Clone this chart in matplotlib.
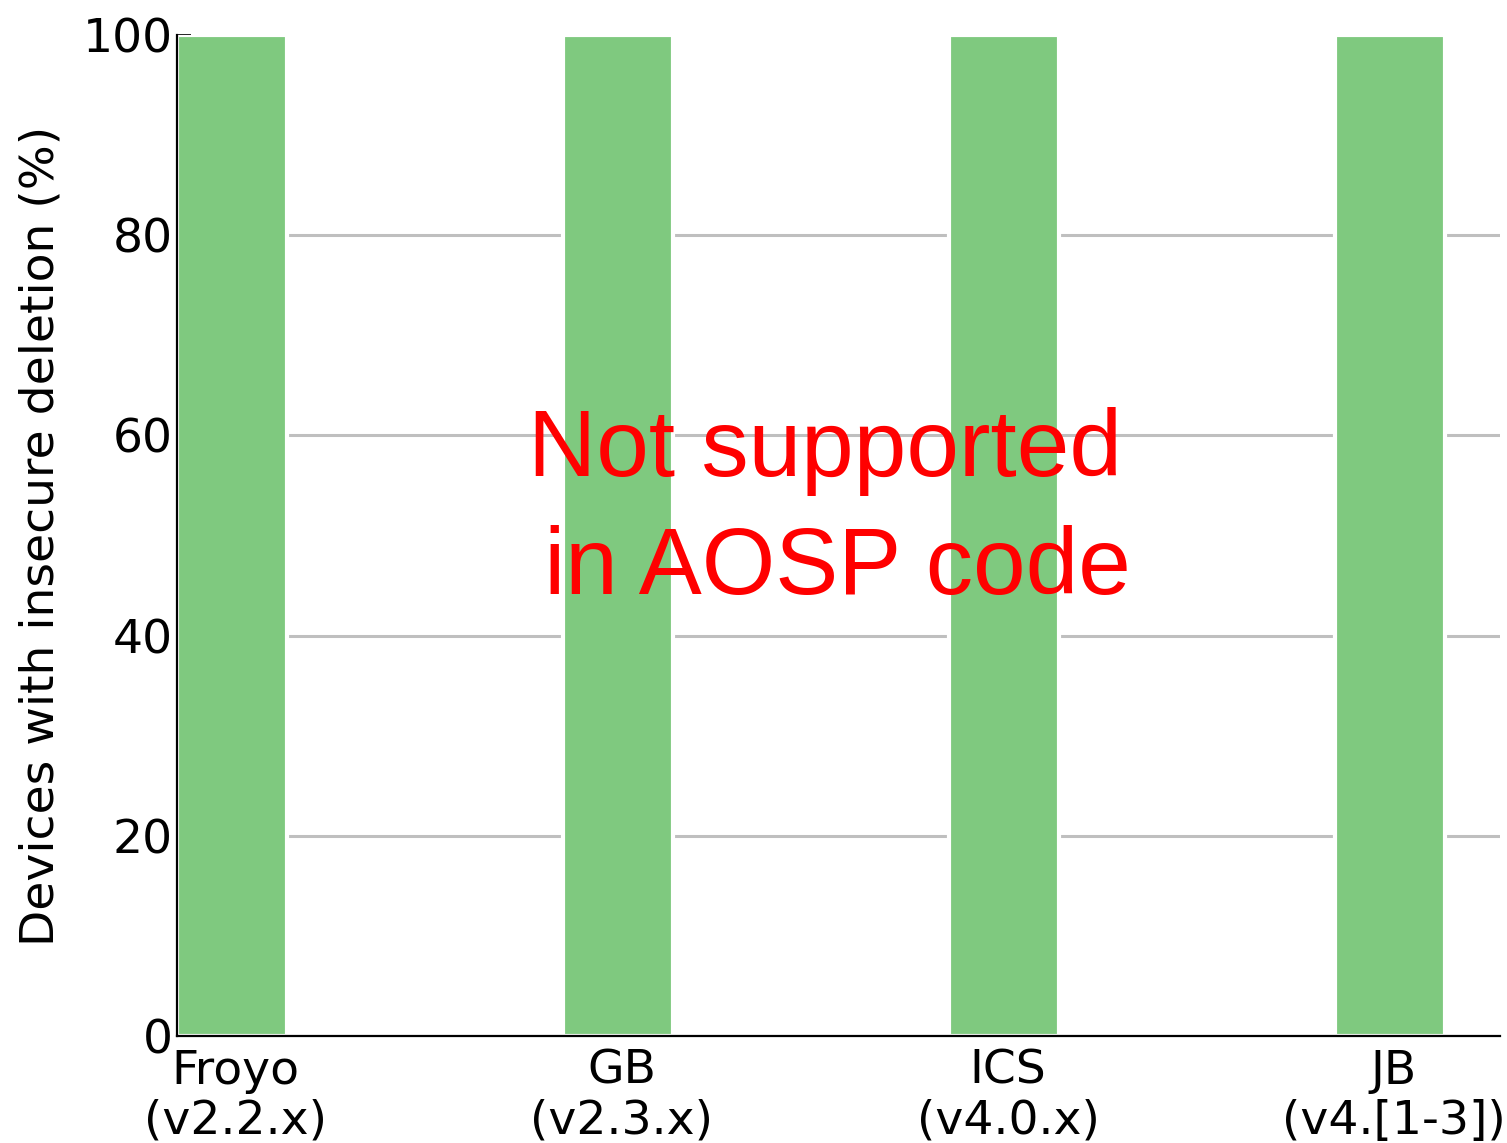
import matplotlib
matplotlib.use("Agg")
import matplotlib.pyplot as plt
import numpy as np

# data
versions = ["Froyo\n(v2.2.x)", "GB\n(v2.3.x)", "ICS\n(v4.0.x)", "JB\n(v4.[1-3])"]
insecure_pct = [100, 100, 100, 100]
yticks = [0, 20, 40, 60, 80, 100]

bar_color = "#7fc97f"
width = 0.285

fig = plt.figure(figsize=(15.07, 11.43), dpi=100)
ax = fig.add_axes([177 / 1507, 1 - 1036 / 1143, (1500 - 177) / 1507, (1036 - 35) / 1143])

x = np.arange(len(versions))
ax.bar(x, insecure_pct, width, align="edge", color=bar_color,
       edgecolor="white", linewidth=3, zorder=3)

ax.set_xlim(0, 3.427)
ax.set_ylim(0, 100)
ax.set_xticks(x + width / 2 + 0.01)
ax.set_xticklabels(versions, fontsize=34, linespacing=1.15)
ax.set_yticks(yticks)
ax.set_yticklabels([str(t) for t in yticks], fontsize=34)
ax.tick_params(axis="x", length=0, pad=9)
ax.tick_params(axis="y", direction="in", length=10, width=1.2, pad=3, right=False)

ax.yaxis.grid(True, color="#bfbfbf", linewidth=2.2, zorder=0)
ax.set_axisbelow(True)
ax.get_ygridlines()[-1].set_visible(False)
ax.get_ygridlines()[0].set_visible(False)

for s in ["top", "right"]:
    ax.spines[s].set_visible(False)
for s in ["left", "bottom"]:
    ax.spines[s].set_linewidth(1.6)
    ax.spines[s].set_zorder(4)

ax.set_ylabel("Devices with insecure deletion (%)", fontsize=34, labelpad=14)

ax.text(0.4895, 0.525, "Not supported\n in AOSP code", transform=ax.transAxes,
        ha="center", va="center", color="red", fontsize=68,
        family="Liberation Sans", linespacing=1.42, zorder=5)

fig.savefig("out.png", dpi=100)
